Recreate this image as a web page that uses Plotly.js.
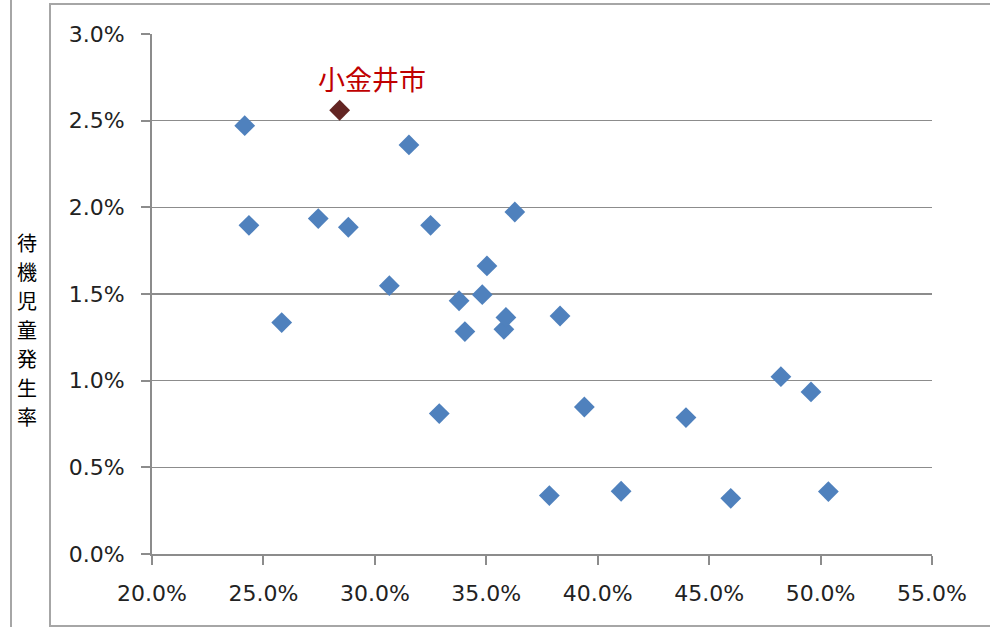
<!DOCTYPE html>
<html><head><meta charset="utf-8">
<script src="https://cdn.plot.ly/plotly-3.0.1.min.js"></script>
<style>html,body{margin:0;padding:0;background:#fff}#chart{width:990px;height:627px}</style>
</head><body><div id="chart"></div>
<script>
// 保育所等利用率 (x) vs 待機児童発生率 (y)
var cityX = [0.2416,0.2435,0.2582,0.2746,0.2881,0.3065,0.3153,0.3250,0.3289,0.3378,0.3404,0.3482,0.3503,0.3579,0.3588,0.3628,0.3783,0.3831,0.3940,0.4105,0.4396,0.4597,0.4822,0.4957,0.5035];
var cityY = [0.02471,0.01896,0.01335,0.01935,0.01885,0.01548,0.02360,0.01896,0.00810,0.01461,0.01283,0.01496,0.01662,0.01296,0.01365,0.01973,0.00337,0.01373,0.00848,0.00362,0.00787,0.00321,0.01023,0.00935,0.00360];
var koganeiName = "小金井市";
var koganeiX = [0.2842];
var koganeiY = [0.02560];
var yTitleChars = ["待","機","児","童","発","生","率"];

var L=152, R=58, T=34, B=73, W=990-L-R, H=627-T-B;
function px(x){return (x-L)/W;}
function py(y){return (627-B-y)/H;}

var traces = [
  {x: cityX, y: cityY, type:'scatter', mode:'markers',
   marker:{symbol:'diamond', size:16, color:'#4F81BD'}, hoverinfo:'x+y'},
  {x: koganeiX, y: koganeiY, type:'scatter', mode:'markers',
   marker:{symbol:'diamond', size:16, color:'#632523'}, hoverinfo:'x+y'}
];
var gridc = '#8C8C8C';
var annotations = [
  {x:koganeiX[0], y:koganeiY[0], xref:'x', yref:'y', text:koganeiName, showarrow:false,
   xshift:32, yshift:32, font:{family:'Noto Sans CJK JP', size:27, color:'#C00000'}}
];
yTitleChars.forEach(function(c, i){
  annotations.push({x:px(27), y:py(242 + i*29), xref:'paper', yref:'paper', text:c, showarrow:false,
    xanchor:'center', yanchor:'middle', borderpad:0,
    font:{family:'Noto Sans CJK JP', size:20, color:'#000'}});
});
var layout = {
  width:990, height:627, showlegend:false,
  margin:{l:L, r:R, t:T, b:B},
  paper_bgcolor:'#fff', plot_bgcolor:'#fff',
  font:{family:'DejaVu Sans, sans-serif', color:'#222', size:22},
  xaxis:{range:[0.20,0.55], dtick:0.05, tick0:0.20, tickformat:'.1%',
    showgrid:false, zeroline:false, showline:true, linecolor:gridc, linewidth:2,
    ticks:'outside', ticklen:9, tickwidth:2, tickcolor:gridc, ticklabelstandoff:10,
    tickfont:{size:22, color:'#222'}, fixedrange:true},
  yaxis:{range:[0,0.030], dtick:0.005, tick0:0, tickformat:'.1%',
    showgrid:true, gridcolor:gridc, gridwidth:1.6, zeroline:false, showline:true, linecolor:gridc, linewidth:2,
    ticks:'outside', ticklen:9, tickwidth:2, tickcolor:gridc, ticklabelstandoff:12,
    tickfont:{size:22, color:'#222'}, fixedrange:true},
  annotations: annotations,
  shapes:[
    {type:'line', xref:'paper', yref:'paper', x0:px(11), x1:px(11), y0:py(0), y1:py(627), line:{color:'#A6A6A6', width:2}},
    {type:'rect', xref:'paper', yref:'paper', x0:px(50), x1:px(1000), y0:py(4), y1:py(626), line:{color:'#A6A6A6', width:2}}
  ]
};
Plotly.newPlot('chart', traces, layout, {displayModeBar:false, staticPlot:true});
</script></body></html>
